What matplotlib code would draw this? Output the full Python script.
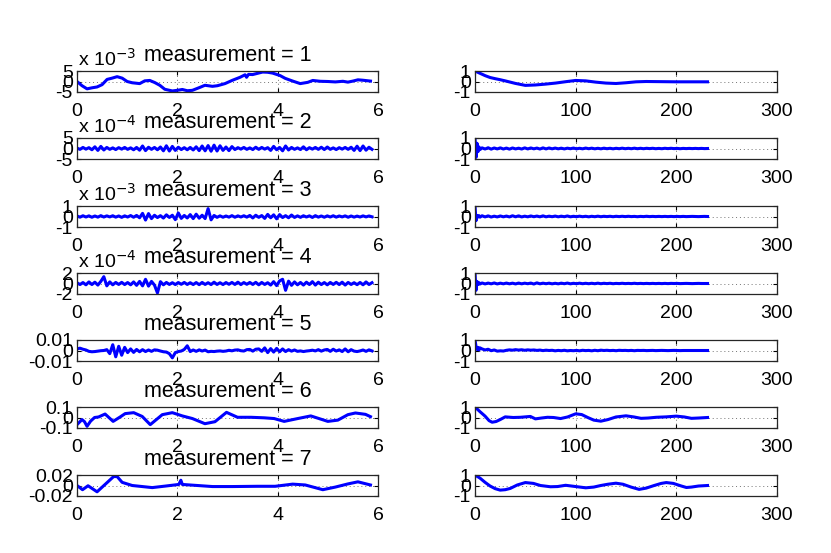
import numpy as np
import matplotlib
matplotlib.use("Agg")
import matplotlib.pyplot as plt

plt.rcParams["font.family"] = ["Liberation Sans", "DejaVu Sans"]

# ---------- data ----------
titles = ["measurement = %d" % k for k in range(1, 8)]

# left column: signal vs time, values in the unit given by sig_unit
sig_unit = [1e-3, 1e-5, 1e-5, 1e-6, 1e-4, 1e-2, 1e-3]
sig_lim = [5e-3, 5e-4, 1e-3, 2e-4, 0.01, 0.1, 0.02]
sig_ticklabels = [["-5", "0", "5"], ["-5", "0", "5"], ["-1", "0", "1"],
                  ["-2", "0", "2"], ["-0.01", "0", "0.01"],
                  ["-0.1", "0", "0.1"], ["-0.02", "0", "0.02"]]
sig_exponent = ["x 10$^{-3}$", "x 10$^{-4}$", "x 10$^{-3}$", "x 10$^{-4}$", None, None, None]

m1_t = [0, 0.1, 0.2, 0.3, 0.4, 0.5, 0.6, 0.7, 0.8, 0.9, 1.0, 1.1, 1.25, 1.35, 1.45,
        1.55, 1.65, 1.75, 1.9, 2.0, 2.1, 2.2, 2.3, 2.45, 2.55, 2.7, 2.8, 2.95, 3.1,
        3.25, 3.35, 3.38, 3.42, 3.5, 3.6, 3.7, 3.8, 3.9, 4.05, 4.15, 4.3, 4.45, 4.6,
        4.7, 4.85, 5.0, 5.15, 5.3, 5.4, 5.5, 5.6, 5.7, 5.85]
m1_y = [0, -2.0, -3.5, -3.0, -2.6, -1.5, 1.0, 1.6, 2.3, 1.6, 0.0, -0.6, -1.0, 0.3, 0.5,
        -0.5, -1.8, -3.7, -4.5, -4.2, -3.8, -4.4, -4.2, -2.8, -1.8, -2.3, -2.0, -1.0, 0.6,
        2.0, 3.2, 2.0, 3.4, 3.3, 3.9, 4.5, 4.4, 4.0, 2.8, 1.5, 0.2, -1.0, -0.4,
        0.5, 0.1, 0.0, -0.2, 0.1, -0.3, 0.2, 0.8, 0.6, 0.2]

m2_y = [2, -4, 5, -3, 4, -6, 8, -9, 10, -7, 5, -4, 3, -5, 4, -3, 5, -4, 3, -6, 5, -8,
        12, -10, 6, -4, 5, -6, 7, -11, 13, -12, 10, -9, 6, -5, 4, -6, 5, -7, 8, -10,
        12, -11, 14, -13, 16, -12, 13, -9, 7, -10, 9, -5, 4, -3, 5, -4, 3, -5, 6, -4,
        5, -3, 4, -9, 10, -6, 5, -11, 12, -7, 5, -4, 3, -5, 8, -6, 4, -3, 5, -4, 6,
        -5, 7, -4, 3, -5, 4, -3, 5, -4, 6, -9, 11, -10, 12, -8, 6, -4]

m3_y = [5, -6, 7, -5, 6, -7, 5, -6, 8, -5, 6, -4, 7, -6, 5, -8, 6, -5, 9, -7, 10, -12,
        30, -34, 28, -20, 12, -10, 8, -15, 16, -9, 12, -30, 34, -18, 10, -14, 18, -20,
        22, -16, 12, -20, 75, -32, 10, -8, 6, -7, 5, -6, 8, -7, 6, -5, 7, -6, 10, -14,
        12, -8, 9, -18, 20, -12, 16, -22, 18, -10, 8, -12, 14, -9, 6, -8, 7, -5, 6,
        -9, 8, -6, 5, -7, 6, -5, 7, -6, 5, -4, 6, -7, 5, -6, 4, -5, 6, -4, 5, -3]

m4_y = [15, -20, 18, -25, 30, -20, 25, -30, 40, 130, -45, 30, -25, 20, -18, 22, -20, 18,
        -25, 30, -35, 40, -45, 80, -50, 40, -30, -180, 35, -25, 20, -18, 15, -20, 18,
        -15, 20, -18, 15, -20, 18, -22, 20, -18, 15, -20, 25, -18, 15, -20, 18, -15,
        20, -18, 25, -20, 18, -15, 20, -18, 22, -25, 20, -18, 15, -30, 35, -40, 50,
        80, -130, 45, -35, 30, -25, 20, -30, 25, -20, 35, -30, 25, -20, 18, -25, 20,
        -18, 22, -20, 25, -30, 20, -18, 15, -22, 20, -25, 30, -20, 15]

m5_y = [15, 22, 12, 5, -8, -12, -10, -6, -2, 0, 8, -30, 55, -60, 40, -45, 30, -20, 15,
        -18, 10, -12, 8, -10, 5, -8, 6, 3, -5, -12, -15, -30, -70, -20, -10, -5, 10,
        45, -10, 5, -8, 6, -5, 4, -12, -8, -10, -6, -4, -8, -5, 2, -3, 4, 6, -2, -5, 8,
        10, -6, 12, 15, -8, 25, -20, 18, -15, 20, -12, 15, -10, 8, -6, 5, -8, -4, -10,
        -5, -2, 3, -4, 8, -6, 5, 10, -8, 12, -5, 6, -10, 15, -12, 8, -6, -10, -4, 5,
        -8, 6, -4]

m6_t = [0, 0.1, 0.15, 0.2, 0.27, 0.35, 0.43, 0.56, 0.72, 0.86, 0.96, 1.13, 1.3, 1.46,
        1.7, 1.9, 2.1, 2.3, 2.55, 2.75, 2.98, 3.2, 3.47, 3.73, 3.93, 4.13, 4.4, 4.66,
        5.0, 5.2, 5.4, 5.55, 5.75, 5.85]
m6_y = [-6.8, -2, -4, -8.4, -3.5, 0, 0.5, 3.3, -3.7, 0.5, 3.7, 4.6, 1, -6.8, 2.7, 4.6,
        1.5, -1, -5.9, -4, 4.9, 0.2, 0.2, -0.3, -1, -3.7, -1, 1.5, -3.7, -2.5, 2.7,
        4.3, 3, 0.8]

m7_t = [0, 0.11, 0.22, 0.4, 0.73, 0.8, 0.9, 1.1, 1.5, 1.77, 2.03, 2.07, 2.1, 2.4, 2.7,
        3.1, 3.6, 3.95, 4.3, 4.55, 4.9, 5.15, 5.4, 5.6, 5.85]
m7_y = [0, -8, -0.5, -12, 17, 17, 6, 0, -4, -1, 2, 10, 2, 0, -2, -2, -1.5, -1.5, 2.6,
        1, -8, -3, 3, 7, 1]

t_end = 5.88

# right column: autocorrelation vs lag
a1_lag = [0, 5, 10, 15, 20, 25, 30, 40, 50, 60, 70, 80, 90, 100, 110, 120, 130, 140,
          150, 160, 170, 180, 200, 220, 231]
a1_y = [1, 0.78, 0.56, 0.38, 0.27, 0.17, 0.06, -0.18, -0.37, -0.33, -0.25, -0.15,
        -0.02, 0.1, 0.06, -0.06, -0.15, -0.19, -0.12, -0.03, 0.0, -0.01, -0.03, -0.03,
        -0.03]

a2_y = [1, -0.85, 0.5, -0.3, 0.15, -0.1,
        0.06, -0.05, 0.07, -0.06, 0.05, -0.04, 0.06, -0.05, 0.04, -0.06, 0.05, -0.04,
        0.03, -0.05, 0.06, -0.04, 0.05, -0.03, 0.04, -0.05, 0.06, -0.04, 0.05, -0.03,
        0.04, -0.03, 0.03, -0.04, 0.03, -0.02, 0.04, -0.03, 0.02, -0.03, 0.04, -0.02,
        0.03, -0.03, 0.02, -0.03, 0.03, -0.02, 0.02, -0.03, 0.02, -0.02, 0.03, -0.02,
        0.02, -0.02, 0.03, -0.02, 0.02, -0.02, 0.02, -0.01, 0.02, -0.02, 0.01, -0.02,
        0.02, -0.01, 0.02, -0.01, 0.01, -0.02, 0.01, -0.01, 0.01, -0.01, 0.01, -0.01,
        0.01, -0.01, 0.0]
a3_y = [1, -0.4, 0.1, -0.05, 0.08, -0.06,
        0.07, -0.04, 0.06, -0.05, 0.03, -0.04, 0.05, -0.03, 0.04, -0.04, 0.07, -0.03,
        0.06, -0.04, 0.03, -0.03, 0.05, -0.02, 0.04, -0.03, 0.06, -0.03, 0.03, -0.02,
        0.04, -0.03, 0.03, -0.02, 0.05, -0.03, 0.02, -0.02, 0.03, -0.02, 0.02, -0.03,
        0.02, -0.02, 0.03, -0.02, 0.02, -0.01, 0.02, -0.02, 0.02, -0.01, 0.02, -0.01,
        0.02, -0.01, 0.01, -0.02, 0.01, -0.01, 0.02, -0.01, 0.01, -0.01, 0.01, -0.01,
        0.01, -0.01, 0.01, -0.01, 0.01, -0.01, 0.01, -0.01, 0.0, 0.01, 0.0, -0.01,
        0.0, 0.01, 0.0]
a4_y = [1, -0.65, 0.2, -0.1, 0.08, -0.05,
        0.05, -0.04, 0.04, -0.03, 0.05, -0.04, 0.03, -0.03, 0.04, -0.03, 0.03, -0.04,
        0.04, -0.03, 0.03, -0.02, 0.04, -0.05, 0.06, -0.03, 0.03, -0.02, 0.03, -0.03,
        0.02, -0.03, 0.03, -0.02, 0.04, -0.03, 0.02, -0.02, 0.03, -0.02, 0.02, -0.02,
        0.02, -0.02, 0.03, -0.02, 0.02, -0.01, 0.02, -0.02, 0.01, -0.01, 0.02, -0.01,
        0.01, -0.01, 0.02, -0.01, 0.01, -0.01, 0.01, -0.01, 0.01, -0.01, 0.01, -0.01,
        0.01, -0.01, 0.01, 0.0, 0.01, -0.01, 0.0, 0.01, 0.0, -0.01, 0.0, 0.01,
        0.0, 0.0, 0.0]
a5_y = [1, 0.4, 0.1, 0.3, 0.05, 0.25,
        0.15, 0.05, 0.12, -0.02, 0.05, -0.06, -0.03, -0.05, 0.02, 0.06, 0.03, 0.08,
        0.04, 0.07, 0.02, 0.06, 0.03, 0.05, 0.01, 0.04, -0.01, 0.03, 0.0, 0.02, -0.03,
        0.01, -0.02, 0.02, -0.03, 0.0, -0.02, 0.01, -0.03, 0.02, -0.01, 0.01, -0.03,
        0.02, -0.02, 0.03, 0.0, 0.02, -0.01, 0.01, -0.02, 0.02, 0.0, 0.01, -0.01,
        0.01, -0.02, 0.01, 0.0, 0.01, -0.01, 0.0, 0.01, -0.01, 0.0, 0.01, 0.0, -0.01,
        0.0, 0.01, 0.0, -0.01, 0.0, 0.0, 0.0, 0.0, 0.0, 0.0, 0.0, 0.0, 0.0]

a6_lag = [0, 5, 10, 14, 17, 21, 25, 30, 38, 45, 55, 60, 66, 72, 78, 85, 92, 100, 106,
          112, 118, 125, 132, 140, 150, 158, 165, 172, 180, 190, 200, 208, 215, 222, 231]
a6_y = [1, 0.55, 0.13, -0.3, -0.45, -0.38, -0.2, 0.06, 0.0, 0.02, 0.1, -0.13, -0.05,
        0.02, 0.0, -0.1, 0.05, 0.35, 0.28, 0.0, -0.25, -0.35, -0.2, 0.05, 0.16, 0.05,
        -0.08, -0.05, 0.02, 0.06, 0.13, 0.05, -0.08, -0.05, 0.0]

a7_lag = [0, 5, 10, 15, 20, 25, 30, 35, 42, 50, 58, 65, 75, 82, 90, 100, 110, 118, 125,
          132, 140, 147, 155, 163, 170, 178, 185, 190, 197, 205, 210, 215, 222, 231]
a7_y = [1, 0.7, 0.3, -0.05, -0.3, -0.44, -0.4, -0.28, 0.05, 0.28, 0.2, 0.0, -0.12,
        -0.1, 0.02, -0.1, -0.22, -0.15, 0.0, 0.12, 0.22, 0.12, -0.15, -0.37, -0.25,
        0.0, 0.2, 0.28, 0.2, -0.05, -0.19, -0.15, -0.05, 0.0]

lag_end = 231


def noisy_lags(vals):
    # first six lags are dense, the rest spread evenly up to lag_end
    return np.r_[0:6, np.linspace(7, lag_end, len(vals) - 6)]


sig_t = [m1_t, None, None, None, None, m6_t, m7_t]
sig_y = [m1_y, m2_y, m3_y, m4_y, m5_y, m6_y, m7_y]
acf_lag = [a1_lag, None, None, None, None, a6_lag, a7_lag]
acf_y = [a1_y, a2_y, a3_y, a4_y, a5_y, a6_y, a7_y]

# ---------- layout ----------
W, H = 831, 553
fig = plt.figure(figsize=(W / 100, H / 100), dpi=100)
row_tops = [71, 138, 206, 273, 340, 407, 475]
ax_h = 21
left_x, left_w = 77, 301
right_x, right_w = 475, 302

blue = (0, 0, 1)
fs = 14


def style(ax):
    ax.tick_params(direction="in", length=3, width=0.8, top=True, right=True,
                   labelsize=fs)
    ax.tick_params(axis="x", pad=8)
    ax.tick_params(axis="y", pad=3)
    for s in ax.spines.values():
        s.set_linewidth(0.9)
        s.set_color("0.15")
    ax.grid(True, linestyle=(0, (1, 3)), color="0.45", linewidth=0.7)


for i in range(7):
    bottom = 1 - (row_tops[i] + ax_h) / H
    axl = fig.add_axes([left_x / W, bottom, left_w / W, ax_h / H])
    axr = fig.add_axes([right_x / W, bottom, right_w / W, ax_h / H])

    y = np.array(sig_y[i]) * sig_unit[i]
    t = sig_t[i] if sig_t[i] is not None else np.linspace(0, t_end, len(y))
    axl.plot(t, y, color=blue, linewidth=2.2)
    lim = sig_lim[i]
    axl.set_xlim(0, 6)
    axl.set_ylim(-lim, lim)
    axl.set_xticks([0, 2, 4, 6])
    axl.set_yticks([-lim, 0, lim])
    axl.set_yticklabels(sig_ticklabels[i])
    style(axl)
    axl.set_title(titles[i], fontsize=15.5, pad=7.5)
    if sig_exponent[i]:
        axl.annotate(sig_exponent[i], xy=(0, 1), xycoords="axes fraction",
                     xytext=(1, 4), textcoords="offset points",
                     fontsize=fs, ha="left", va="baseline")

    a = np.array(acf_y[i])
    lag = acf_lag[i] if acf_lag[i] is not None else noisy_lags(a)
    axr.plot(lag, a, color=blue, linewidth=2.2)
    axr.set_xlim(0, 300)
    axr.set_ylim(-1, 1)
    axr.set_xticks([0, 100, 200, 300])
    axr.set_yticks([-1, 0, 1])
    axr.set_yticklabels(["-1", "0", "1"])
    style(axr)

fig.savefig("out.png", dpi=100)
